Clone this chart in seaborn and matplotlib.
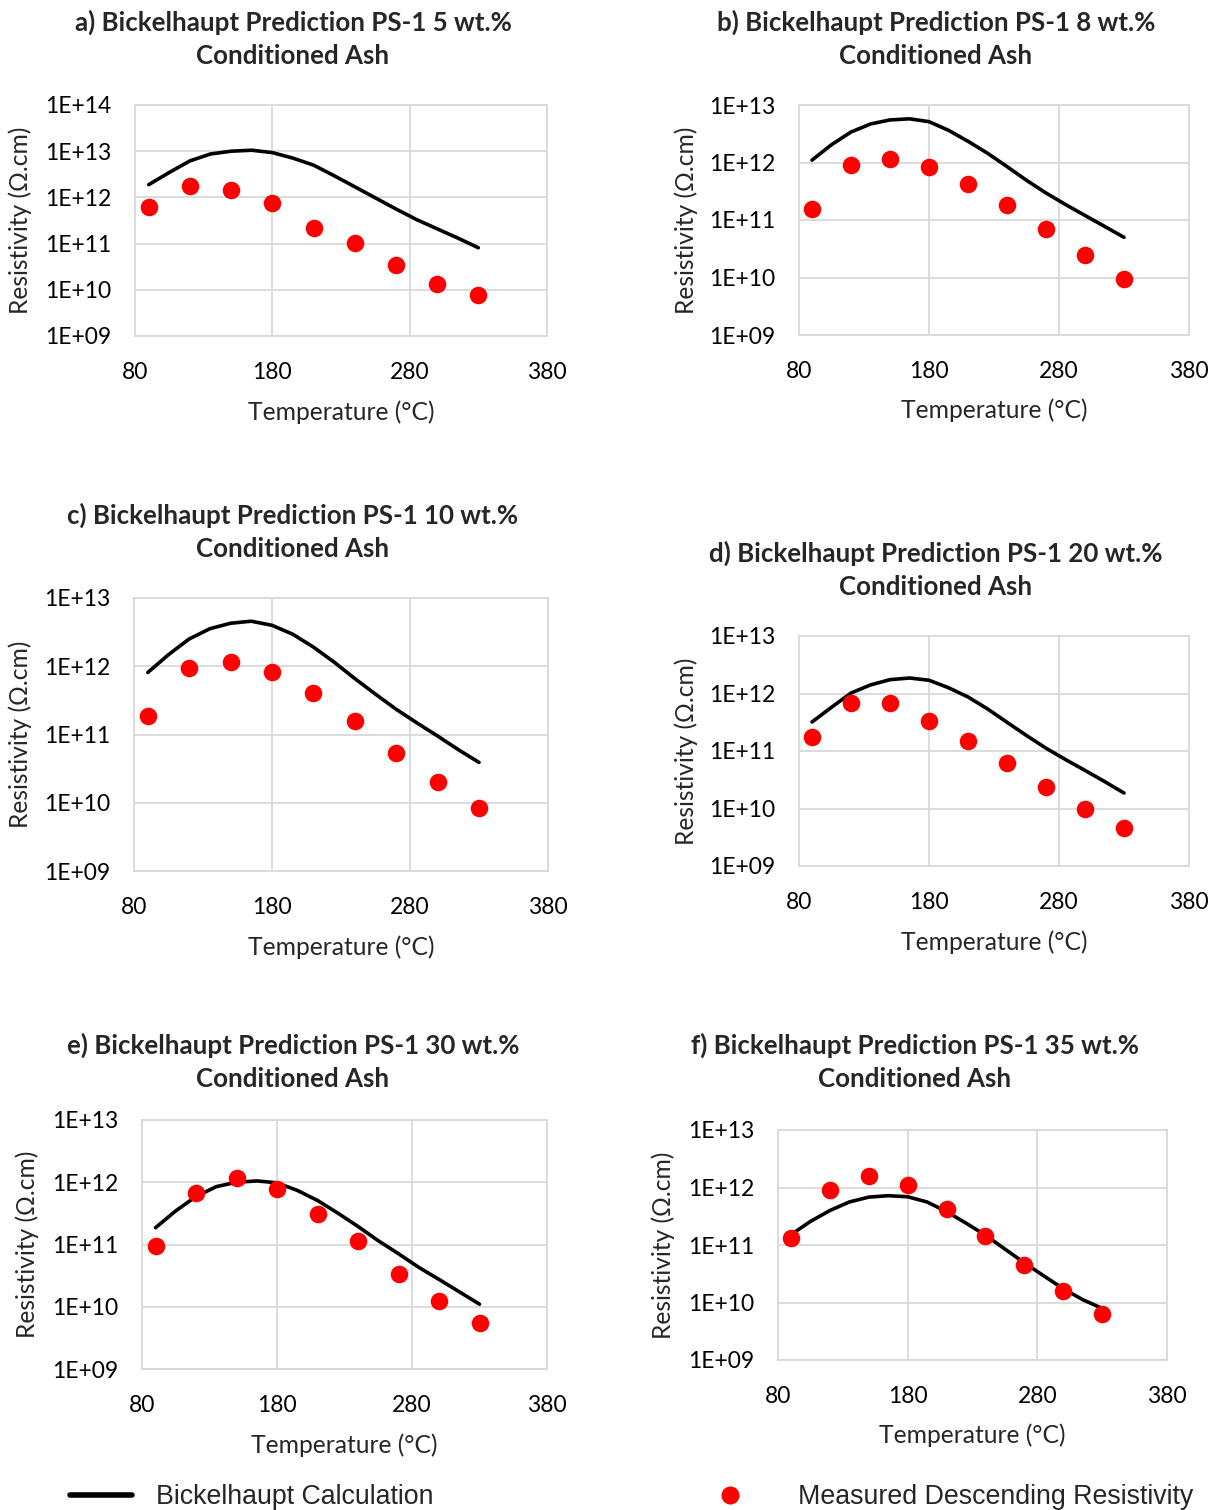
import matplotlib
matplotlib.use("Agg")
import numpy as np
import pandas as pd
import matplotlib.pyplot as plt
import seaborn as sns
from matplotlib.ticker import FixedLocator, FuncFormatter, NullLocator
from matplotlib.lines import Line2D

# ---- data -------------------------------------------------------------
temps_measured = [90, 120, 150, 180, 210, 240, 270, 300, 330]
temps_calc = [90, 105, 120, 135, 150, 165, 180, 195, 210, 225, 240, 255, 270, 285, 300, 315, 330]

calc_a = [1.89e12, 3.47e12, 6.17e12, 8.71e12, 1.0e13, 1.05e13, 9.33e12, 7.08e12, 5.0e12,
          2.95e12, 1.7e12, 9.77e11, 5.62e11, 3.31e11, 2.09e11, 1.32e11, 8.13e10]
meas_a = [6.2e11, 1.8e12, 1.45e12, 7.6e11, 2.2e11, 1.05e11, 3.5e10, 1.35e10, 7.8e9]

calc_b = [1.1e12, 2.04e12, 3.39e12, 4.68e12, 5.5e12, 5.75e12, 5.13e12, 3.63e12, 2.34e12,
          1.45e12, 8.5e11, 4.9e11, 2.95e11, 1.86e11, 1.2e11, 7.76e10, 5.0e10]
meas_b = [1.55e11, 8.9e11, 1.15e12, 8.5e11, 4.3e11, 1.8e11, 7.1e10, 2.5e10, 9.5e9]

calc_c = [8.1e11, 1.48e12, 2.51e12, 3.55e12, 4.27e12, 4.57e12, 3.98e12, 2.95e12, 1.91e12,
          1.15e12, 6.6e11, 3.9e11, 2.34e11, 1.48e11, 9.5e10, 6.0e10, 3.9e10]
meas_c = [1.86e11, 9.3e11, 1.15e12, 8.1e11, 4.1e11, 1.6e11, 5.4e10, 2.0e10, 8.3e9]

calc_d = [3.2e11, 5.75e11, 1.02e12, 1.41e12, 1.74e12, 1.86e12, 1.7e12, 1.26e12, 8.7e11,
          5.4e11, 3.16e11, 1.86e11, 1.12e11, 7.1e10, 4.6e10, 2.95e10, 1.86e10]
meas_d = [1.74e11, 6.9e11, 6.9e11, 3.3e11, 1.5e11, 6.2e10, 2.4e10, 9.8e9, 4.5e9]

calc_e = [1.86e11, 3.47e11, 5.9e11, 8.5e11, 1.0e12, 1.05e12, 9.8e11, 7.4e11, 5.1e11,
          3.2e11, 1.95e11, 1.15e11, 7.1e10, 4.3e10, 2.75e10, 1.74e10, 1.1e10]
meas_e = [9.5e10, 6.6e11, 1.17e12, 7.9e11, 3.1e11, 1.12e11, 3.4e10, 1.23e10, 5.5e9]

calc_f = [1.51e11, 2.57e11, 3.98e11, 5.6e11, 6.8e11, 7.2e11, 6.9e11, 5.6e11, 3.8e11,
          2.4e11, 1.48e11, 8.5e10, 4.9e10, 2.9e10, 1.74e10, 1.12e10, 7.9e9]
meas_f = [1.35e11, 8.9e11, 1.58e12, 1.12e12, 4.2e11, 1.45e11, 4.5e10, 1.6e10, 6.3e9]

titles = [
    "a) Bickelhaupt Prediction PS-1 5 wt.%\nConditioned Ash",
    "b) Bickelhaupt Prediction PS-1 8 wt.%\nConditioned Ash",
    "c) Bickelhaupt Prediction PS-1 10 wt.%\nConditioned Ash",
    "d) Bickelhaupt Prediction PS-1 20 wt.%\nConditioned Ash",
    "e) Bickelhaupt Prediction PS-1 30 wt.%\nConditioned Ash",
    "f) Bickelhaupt Prediction PS-1 35 wt.%\nConditioned Ash",
]
x_ticks = [80, 180, 280, 380]
y_top = [1e14, 1e13, 1e13, 1e13, 1e13, 1e13]
x_label = "Temperature (°C)"
y_label = "Resistivity (Ω.cm)"
legend_line = "Bickelhaupt Calculation"
legend_dots = "Measured Descending Resistivity"

calcs = [calc_a, calc_b, calc_c, calc_d, calc_e, calc_f]
meas = [meas_a, meas_b, meas_c, meas_d, meas_e, meas_f]

# ---- layout (pixel boxes: left, top, right, bottom) ------------------
W, H = 1221, 1510
boxes = [
    (135, 105, 547, 336),
    (799, 105, 1189, 335),
    (134, 598, 548, 871),
    (799, 636, 1189, 866),
    (142, 1120, 547, 1369),
    (778, 1130, 1167, 1360),
]
title_pos = [(293, 39), (936, 39), (293, 532), (936, 570), (293, 1062), (915, 1062)]
ylab_x = [20, 686, 20, 686, 27, 663]
xlab_y = [412, 410, 947, 942, 1445, 1435]

sns.set_theme(style="white")
plt.rcParams["font.family"] = ["Lato", "DejaVu Sans"]
plt.rcParams["mathtext.default"] = "regular"

GRID = "#d9d9d9"
TICK_FS = 16.5
LAB_FS = 17.7
TITLE_FS = 18.6
fig = plt.figure(figsize=(W / 100, H / 100), dpi=100)

for i in range(6):
    l, t, r, b = boxes[i]
    ax = fig.add_axes([l / W, 1 - b / H, (r - l) / W, (b - t) / H])
    df_c = pd.DataFrame({"T": temps_calc, "R": calcs[i]})
    df_m = pd.DataFrame({"T": temps_measured, "R": meas[i]})
    ax.set_yscale("log")
    sns.lineplot(data=df_c, x="T", y="R", ax=ax, color="black", linewidth=2.6,
                 zorder=3, legend=False)
    sns.scatterplot(data=df_m, x="T", y="R", ax=ax, color="#ff0000", s=160,
                    linewidth=0, zorder=4, legend=False)
    ax.set_xlim(80, 380)
    ax.set_ylim(1e9, y_top[i])
    ax.xaxis.set_major_locator(FixedLocator(x_ticks))
    decades = [10.0 ** k for k in range(9, int(round(np.log10(y_top[i]))) + 1)]
    ax.yaxis.set_major_locator(FixedLocator(decades))
    ax.yaxis.set_minor_locator(NullLocator())
    ax.yaxis.set_major_formatter(FuncFormatter(lambda v, p: "1E+%02d" % int(round(np.log10(v)))))
    ax.grid(True, which="major", color=GRID, linewidth=1.3)
    ax.set_axisbelow(True)
    for s in ax.spines.values():
        s.set_color(GRID)
        s.set_linewidth(1.3)
    ax.tick_params(axis="both", length=0, labelsize=TICK_FS, colors="black")
    ax.tick_params(axis="y", pad=17)
    ax.tick_params(axis="x", pad=19)
    ax.set_xlabel(x_label, fontsize=LAB_FS)
    ax.set_ylabel(y_label, fontsize=LAB_FS)
    ax.yaxis.set_label_coords((ylab_x[i] - l) / (r - l), 0.5)
    ax.xaxis.set_label_coords(0.5, (b - xlab_y[i]) / (b - t))
    ax.xaxis.label.set_va("center")
    ax.yaxis.label.set_va("center")
    tx, ty = title_pos[i]
    fig.text(tx / W, 1 - ty / H, titles[i], ha="center", va="center",
             fontsize=TITLE_FS, fontweight="bold", linespacing=1.46)

# ---- shared legend along the bottom ---------------------------------
leg_font = ["Liberation Sans Narrow", "Liberation Sans", "DejaVu Sans"]
h1 = Line2D([], [], color="black", linewidth=4)
h2 = Line2D([], [], color="#ff0000", marker="o", linestyle="none", markersize=13,
            markeredgewidth=0)
fig.legend([h1], [legend_line], loc="center left",
           bbox_to_anchor=(70 / W, 1 - 1497 / H), frameon=False,
           borderpad=0, borderaxespad=0, handlelength=2.3, handletextpad=0.9,
           prop={"family": leg_font, "size": 19.3})
fig.legend([h2], [legend_dots], loc="center left",
           bbox_to_anchor=(699 / W, 1 - 1497 / H), frameon=False,
           borderpad=0, borderaxespad=0, handlelength=2.3, handletextpad=1.4,
           prop={"family": leg_font, "size": 19.3})

fig.savefig("out.png", dpi=100, facecolor="white")
